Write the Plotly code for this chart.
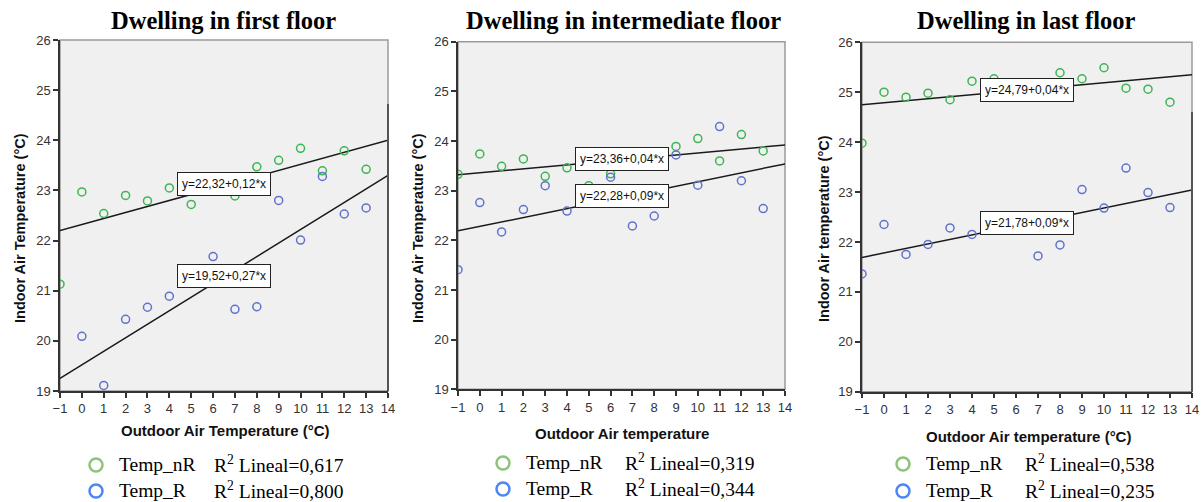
import numpy as np
import plotly.graph_objects as go

# ---------------- data ----------------
titles = ["Dwelling in first floor", "Dwelling in intermediate floor", "Dwelling in last floor"]
xtitles = ["Outdoor Air Temperature (°C)", "Outdoor Air temperature", "Outdoor Air temperature (°C)"]
ytitles = ["Indoor Air Temperature (°C)", "Indoor Air Temperature (°C)", "Indoor Air temperature (°C)"]

# Panel 1 - first floor
p1_nR_x = [-1, 0, 1, 2, 3, 4, 5, 7, 8, 9, 10, 11, 12, 13]
p1_nR_y = [21.13, 22.97, 22.54, 22.90, 22.79, 23.05, 22.72, 22.89, 23.47, 23.60, 23.84, 23.39, 23.79, 23.42]
p1_R_x = [0, 1, 2, 3, 4, 6, 7, 8, 9, 10, 11, 12, 13]
p1_R_y = [20.09, 19.11, 20.43, 20.67, 20.89, 21.68, 20.63, 20.68, 22.80, 22.01, 23.28, 22.53, 22.65]

# Panel 2 - intermediate floor
p2_nR_x = [-1, 0, 1, 2, 3, 4, 5, 6, 9, 10, 11, 12, 13]
p2_nR_y = [23.33, 23.74, 23.49, 23.64, 23.29, 23.46, 23.10, 23.34, 23.89, 24.05, 23.60, 24.13, 23.80]
p2_R_x = [-1, 0, 1, 2, 3, 4, 6, 7, 8, 9, 10, 11, 12, 13]
p2_R_y = [21.41, 22.76, 22.17, 22.62, 23.10, 22.59, 23.27, 22.29, 22.49, 23.72, 23.11, 24.29, 23.20, 22.64]

# Panel 3 - last floor
p3_nR_x = [-1, 0, 1, 2, 3, 4, 5, 8, 9, 10, 11, 12, 13]
p3_nR_y = [23.98, 25.00, 24.90, 24.98, 24.85, 25.22, 25.27, 25.39, 25.27, 25.49, 25.08, 25.06, 24.80]
p3_R_x = [-1, 0, 1, 2, 3, 4, 7, 8, 9, 10, 11, 12, 13]
p3_R_y = [21.36, 22.35, 21.75, 21.95, 22.28, 22.15, 21.72, 21.94, 23.05, 22.68, 23.48, 22.99, 22.69]

# fitted lines (intercept, slope)
fit_nR = [(22.32, 0.12), (23.36, 0.04), (24.79, 0.04)]
fit_R = [(19.52, 0.27), (22.28, 0.09), (21.78, 0.09)]
fit_nR_lbl = ["y=22,32+0,12*x", "y=23,36+0,04*x", "y=24,79+0,04*x"]
fit_R_lbl = ["y=19,52+0,27*x", "y=22,28+0,09*x", "y=21,78+0,09*x"]
r2_nR = ["0,617", "0,319", "0,538"]
r2_R = ["0,800", "0,344", "0,235"]

x_range = [-1, 14]
y_range = [19, 26]
x_ticks = list(range(-1, 15))
y_ticks = list(range(19, 27))

# ---------------- layout geometry ----------------
W, H = 1202, 502
px = [(60, 388), (458, 785), (862, 1192)]
py = [(40, 391), (41.7, 389.3), (42.3, 391.7)]
label_y = [(23.13, 21.29), (23.64, 22.89), (25.05, 22.37)]
label_x = 6.5
title_cx = [223, 623, 1026]
title_cy = 21
xt_pos = [(225, 430), (622, 433), (1028, 436)]
yt_x = [20, 418, 824]
yt_cy = 228
leg_circ_x = [96, 503, 903]
leg_rows = [(464, 490), (462, 488), (463, 490)]
leg_t1_x = [117, 524, 924]
leg_t2_x = [212, 623, 1023]

GREEN = "#3db553"
BLUE = "#6272cc"
LEG_GREEN = "#8dc37a"
LEG_BLUE = "#4d86f5"
BG = "#f0f0f0"

fig = go.Figure()
data = [
    (p1_nR_x, p1_nR_y, p1_R_x, p1_R_y),
    (p2_nR_x, p2_nR_y, p2_R_x, p2_R_y),
    (p3_nR_x, p3_nR_y, p3_R_x, p3_R_y),
]

def fx(v):
    return v / W

def fy(v):
    return 1 - v / H

shapes = []
annotations = []
for i in range(3):
    xa = "x" if i == 0 else f"x{i+1}"
    ya = "y" if i == 0 else f"y{i+1}"
    nx, ny, rx, ry = data[i]
    xl = np.array(x_range, dtype=float)
    b0, b1 = fit_nR[i]
    fig.add_trace(go.Scatter(x=xl, y=b0 + b1 * xl, mode="lines", line=dict(color="#1a1a1a", width=1.5),
                             xaxis=xa, yaxis=ya, showlegend=False, hoverinfo="skip"))
    b0, b1 = fit_R[i]
    fig.add_trace(go.Scatter(x=xl, y=b0 + b1 * xl, mode="lines", line=dict(color="#1a1a1a", width=1.5),
                             xaxis=xa, yaxis=ya, showlegend=False, hoverinfo="skip"))
    fig.add_trace(go.Scatter(x=nx, y=ny, mode="markers",
                             marker=dict(symbol="circle-open", size=8, color=GREEN, line=dict(width=1.5)),
                             xaxis=xa, yaxis=ya, showlegend=False))
    fig.add_trace(go.Scatter(x=rx, y=ry, mode="markers",
                             marker=dict(symbol="circle-open", size=8, color=BLUE, line=dict(width=1.5)),
                             xaxis=xa, yaxis=ya, showlegend=False))

    dom_x = [fx(px[i][0]), fx(px[i][1])]
    dom_y = [fy(py[i][1]), fy(py[i][0])]
    axis_common = dict(showline=True, linecolor="#333333", linewidth=1.5, ticks="outside", ticklen=5,
                       tickcolor="#333333", tickwidth=1.5, showgrid=False, zeroline=False, automargin=False,
                       tickfont=dict(family="Liberation Sans, Arial", size=13, color="#333333"))
    fig.update_layout(**{
        ("xaxis" if i == 0 else f"xaxis{i+1}"): dict(domain=dom_x, range=x_range, tickvals=x_ticks,
                                                       anchor=ya, **axis_common),
        ("yaxis" if i == 0 else f"yaxis{i+1}"): dict(domain=dom_y, range=y_range, tickvals=y_ticks,
                                                       anchor=xa, **axis_common),
    })
    # plot background + frame (top/right)
    shapes.append(dict(type="rect", xref=f"{xa} domain", yref=f"{ya} domain", x0=0, x1=1, y0=0, y1=1,
                       fillcolor=BG, line=dict(color="#9a9a9a", width=1.5), layer="below"))

    # equation labels
    for lbl, yy in ((fit_nR_lbl[i], label_y[i][0]), (fit_R_lbl[i], label_y[i][1])):
        annotations.append(dict(x=label_x, y=yy, xref=xa, yref=ya, text=lbl, showarrow=False,
                                font=dict(family="Liberation Sans, Arial", size=12, color="#111111"),
                                bgcolor="white", bordercolor="#222222", borderwidth=1, borderpad=4))
    # title
    annotations.append(dict(x=fx(title_cx[i]), y=fy(title_cy), xref="paper", yref="paper",
                            text=f"<b>{titles[i]}</b>",
                            showarrow=False, xanchor="center", yanchor="middle",
                            font=dict(family="Liberation Serif, Times New Roman", size=24.5, color="black")))
    # x-axis title
    annotations.append(dict(x=fx(xt_pos[i][0]), y=fy(xt_pos[i][1]), xref="paper", yref="paper",
                            text=f"<b>{xtitles[i]}</b>", showarrow=False, xanchor="center", yanchor="middle",
                            font=dict(family="Liberation Sans, Arial", size=15, color="#111111")))
    # y-axis title
    annotations.append(dict(x=fx(yt_x[i]), y=fy(yt_cy), xref="paper", yref="paper",
                            text=f"<b>{ytitles[i]}</b>", showarrow=False, textangle=-90,
                            xanchor="center", yanchor="middle",
                            font=dict(family="Liberation Sans, Arial", size=14.5, color="#111111")))
    # legend
    for (col, name, r2), yrow in zip(((LEG_GREEN, "Temp_nR", r2_nR[i]), (LEG_BLUE, "Temp_R", r2_R[i])), leg_rows[i]):
        rr = 6.5
        shapes.append(dict(type="circle", xref="paper", yref="paper",
                           x0=fx(leg_circ_x[i] - rr), x1=fx(leg_circ_x[i] + rr),
                           y0=fy(yrow + 1 + rr), y1=fy(yrow + 1 - rr),
                           line=dict(color=col, width=2.5), fillcolor="rgba(0,0,0,0)"))
        annotations.append(dict(x=fx(leg_t1_x[i]), y=fy(yrow), xref="paper", yref="paper", text=name,
                                showarrow=False, xanchor="left", yanchor="middle",
                                font=dict(family="Liberation Serif, Times New Roman", size=19.5, color="black")))
        annotations.append(dict(x=fx(leg_t2_x[i]), y=fy(yrow), xref="paper", yref="paper",
                                text=f"R<sup>2</sup> Lineal={r2}", showarrow=False, xanchor="left", yanchor="middle",
                                font=dict(family="Liberation Serif, Times New Roman", size=19.5, color="black")))

# darker lower part of right frame on panels 1 and 3
shapes.append(dict(type="line", xref="paper", yref="paper", x0=fx(388), x1=fx(388), y0=fy(104), y1=fy(391),
                   line=dict(color="#555555", width=2)))
shapes.append(dict(type="line", xref="paper", yref="paper", x0=fx(1192), x1=fx(1192), y0=fy(112), y1=fy(391.7),
                   line=dict(color="#555555", width=2)))

fig.update_layout(width=W, height=H, margin=dict(l=0, r=0, t=0, b=0, autoexpand=False), paper_bgcolor="white",
                  plot_bgcolor="rgba(0,0,0,0)", shapes=shapes, annotations=annotations, showlegend=False)

fig.write_html("out.html", config={"displayModeBar": False},
               post_script="document.body.style.margin='0';document.body.style.padding='0';"
                           "document.body.style.overflow='hidden';")
